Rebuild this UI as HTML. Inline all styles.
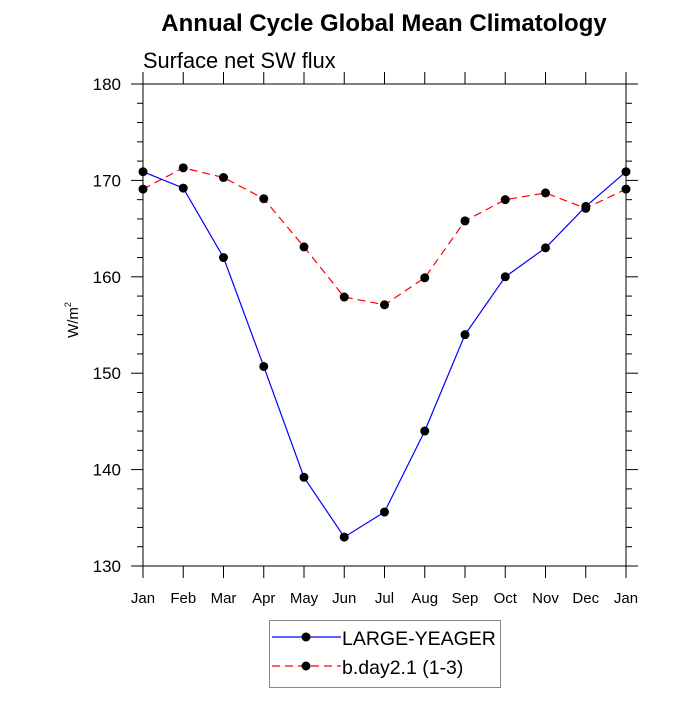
<!DOCTYPE html>
<html><head><meta charset="utf-8"><style>body{margin:0;background:#fff}svg{font-family:"Liberation Sans",sans-serif}</style></head>
<body>
<svg width="700" height="700" viewBox="0 0 700 700">
<g id="plot"></g>
</svg>
<script>
const months=["Jan","Feb","Mar","Apr","May","Jun","Jul","Aug","Sep","Oct","Nov","Dec","Jan"];
const largeYeager=[170.9,169.2,162.0,150.7,139.2,133.0,135.6,144.0,154.0,160.0,163.0,167.3,170.9];
const bDay=[169.1,171.3,170.3,168.1,163.1,157.9,157.1,159.9,165.8,168.0,168.7,167.1,169.1];
const yTicks=[130,140,150,160,170,180];
const L=143,R=626,T=84,B=566,ymin=130,ymax=180;
const X=i=>L+(R-L)*i/12;
const Y=v=>B-(B-T)*(v-ymin)/(ymax-ymin);
const NS="http://www.w3.org/2000/svg";
const g=document.getElementById('plot');
function mk(t,a,txt,parent){const e=document.createElementNS(NS,t);for(const k in a)e.setAttribute(k,a[k]);if(txt!=null)e.textContent=txt;(parent||g).appendChild(e);return e;}
let e;
e=mk('text',{x:384,y:31,'text-anchor':'middle','font-size':24,'font-weight':'bold'},'Annual Cycle Global Mean Climatology');


e=mk('text',{x:143,y:68,'font-size':21.8},'Surface net SW flux');


e=mk('rect',{x:L,y:T,width:R-L,height:B-T,fill:'none',stroke:'#000','stroke-width':1});


for(let v=ymin;v<=ymax;v+=2){const maj=(v%10===0);const len=maj?12:6;
 e=mk('line',{x1:L-len,x2:L,y1:Y(v),y2:Y(v),stroke:'#000'});
 
 
 e=mk('line',{x1:R,x2:R+len,y1:Y(v),y2:Y(v),stroke:'#000'});
 
 }
yTicks.forEach(v=>{e=mk('text',{x:121,y:Y(v)+6,'text-anchor':'end','font-size':17},String(v));
 
 });
months.forEach((m,i)=>{
 e=mk('line',{x1:X(i),x2:X(i),y1:B,y2:B+12,stroke:'#000'});
 
 
 e=mk('line',{x1:X(i),x2:X(i),y1:T-12,y2:T,stroke:'#000'});
 
 
 e=mk('text',{x:X(i),y:603,'text-anchor':'middle','font-size':15},m);
 
 });
e=mk('text',{x:0,y:0,transform:'translate(78,320) rotate(-90)','text-anchor':'middle','font-size':15},'W/m');


mk('tspan',{'font-size':9,dy:-7},'2',e);
series(bDay,'#f00','8,5','b-day');
series(largeYeager,'#00f',null,'large-yeager');
function series(vals,color,dash,name){
 e=mk('polyline',{points:vals.map((v,i)=>X(i)+','+Y(v)).join(' '),fill:'none',stroke:color,'stroke-width':1.2,'stroke-dasharray':dash||'none'});
 
 
 vals.forEach((v,i)=>{e=mk('circle',{cx:X(i),cy:Y(v),r:4.5,fill:'#000'});
  
  });
}
e=mk('rect',{x:269.5,y:620.5,width:231,height:67,fill:'#fff',stroke:'#888'});


e=mk('line',{x1:272,x2:341,y1:637,y2:637,stroke:'#00f','stroke-width':1.2});


e=mk('circle',{cx:306,cy:637,r:4.5,fill:'#000'});


e=mk('text',{x:342,y:645,'font-size':19.5},'LARGE-YEAGER');


e=mk('line',{x1:272,x2:341,y1:666,y2:666,stroke:'#f00','stroke-width':1.2,'stroke-dasharray':'8,5'});


e=mk('circle',{cx:306,cy:666,r:4.5,fill:'#000'});


e=mk('text',{x:342,y:674,'font-size':19.5},'b.day2.1 (1-3)');


</script>
</body></html>
